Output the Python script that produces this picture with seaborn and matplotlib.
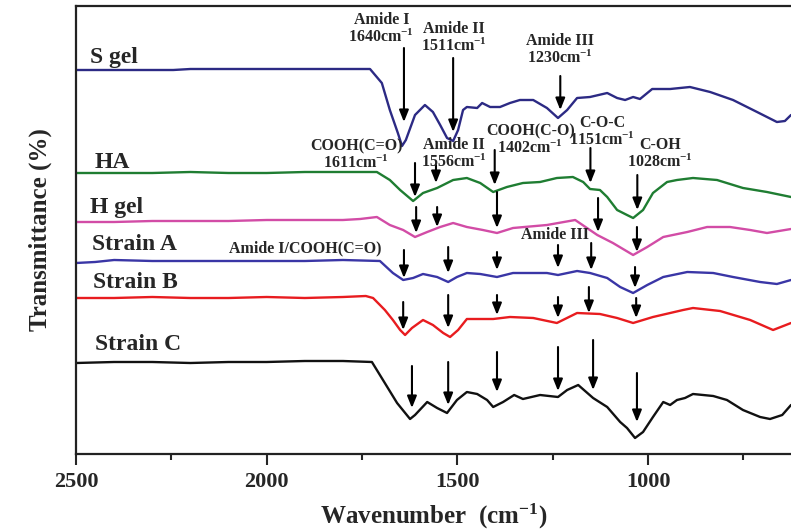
import numpy as np
import pandas as pd
import matplotlib
matplotlib.use("Agg")
import matplotlib.pyplot as plt
import seaborn as sns

# ---------------- data (wavenumber cm-1, transmittance a.u. with offsets) ----------------
sgel_w = [2500, 2400, 2300, 2245, 2200, 2100, 2000, 1900, 1800, 1729, 1698, 1677, 1656, 1645, 1635, 1611, 1585,
          1564, 1545, 1527, 1511, 1498, 1485, 1475, 1448, 1435, 1414, 1388, 1362, 1336, 1301, 1265, 1236,
          1212, 1186, 1152, 1107, 1081, 1060, 1039, 1021, 989, 942, 890, 837, 777, 714, 662, 641, 625]
sgel_t = [384, 384, 384, 384, 385, 385, 385, 385, 385, 385, 371, 344, 321, 308, 314, 339, 349,
          342, 329, 316, 313, 324, 344, 347, 346, 351, 347, 347, 351, 354, 354, 346, 336,
          344, 356, 357, 361, 356, 354, 357, 355, 365, 365, 367, 362, 354, 342, 332, 333, 339]

ha_w = [2500, 2400, 2300, 2200, 2100, 2000, 1900, 1800, 1711, 1677, 1650, 1616, 1590, 1553, 1511, 1475,
        1440, 1406, 1370, 1328, 1283, 1239, 1197, 1170, 1152, 1126, 1107, 1081, 1055, 1039, 1013, 987,
        950, 924, 882, 819, 751, 688, 625]
ha_t = [281, 281, 281, 282, 281, 281, 282, 282, 282, 274, 264, 253, 261, 266, 274, 276,
        271, 262, 267, 271, 272, 276, 277, 272, 265, 264, 257, 244, 239, 236, 244, 261,
        272, 274, 276, 274, 266, 262, 257]

hgel_w = [2500, 2400, 2300, 2200, 2100, 2000, 1900, 1800, 1755, 1711, 1677, 1642, 1611, 1579, 1545, 1511,
          1475, 1433, 1396, 1354, 1265, 1191, 1160, 1133, 1092, 1039, 1002, 960, 897, 845, 785, 732, 688, 625]
hgel_t = [232, 232, 233, 233, 233, 234, 234, 234, 235, 237, 229, 224, 217, 222, 227, 231,
          227, 224, 221, 226, 229, 234, 226, 219, 211, 199, 207, 217, 222, 227, 227, 224, 221, 225]

sa_w = [2500, 2450, 2400, 2300, 2200, 2100, 2000, 1900, 1800, 1703, 1669, 1642, 1616, 1590, 1553, 1524,
        1501, 1475, 1440, 1396, 1354, 1265, 1236, 1186, 1152, 1107, 1073, 1039, 1002, 960, 897, 829,
        777, 706, 662, 625]
sa_t = [191, 192, 194, 193, 193, 193, 193, 193, 194, 193, 181, 174, 176, 180, 177, 172,
        177, 181, 180, 177, 181, 181, 179, 183, 181, 176, 167, 161, 169, 177, 182, 181,
        177, 172, 170, 174]

sb_w = [2500, 2400, 2300, 2200, 2100, 2000, 1900, 1800, 1740, 1721, 1690, 1669, 1650, 1637, 1619, 1590,
        1564, 1537, 1519, 1498, 1475, 1406, 1362, 1301, 1239, 1186, 1126, 1081, 1039, 987, 908, 882,
        811, 732, 672, 625]
sb_t = [156, 156, 157, 156, 156, 157, 156, 157, 158, 156, 144, 134, 124, 119, 126, 134,
        129, 121, 117, 124, 135, 135, 137, 136, 131, 141, 140, 136, 131, 137, 144, 146,
        143, 134, 124, 131]

sc_w = [2500, 2400, 2300, 2200, 2100, 2000, 1900, 1800, 1724, 1695, 1658, 1624, 1611, 1579, 1553, 1527,
        1501, 1475, 1448, 1422, 1406, 1380, 1351, 1328, 1283, 1236, 1212, 1183, 1144, 1107, 1073, 1055,
        1034, 1013, 987, 960, 942, 924, 903, 882, 829, 793, 751, 706, 680, 648, 625]
sc_t = [91, 92, 92, 91, 92, 92, 93, 93, 92, 74, 51, 35, 39, 52, 46, 41,
        54, 62, 60, 54, 47, 52, 59, 55, 59, 57, 64, 69, 56, 47, 32, 26,
        16, 22, 37, 52, 49, 54, 56, 60, 58, 54, 44, 37, 35, 39, 49]

series_names = ["S gel", "HA", "H gel", "Strain A", "Strain B", "Strain C"]
series_w = [sgel_w, ha_w, hgel_w, sa_w, sb_w, sc_w]
series_t = [sgel_t, ha_t, hgel_t, sa_t, sb_t, sc_t]
series_colors = ["#2c2a84", "#1f7d32", "#d24ca6", "#3a36a6", "#e81c1f", "#111111"]

# series label anchor (left, centre)
label_w = [2463, 2450, 2463, 2458, 2455, 2450]
label_t = [397, 291, 247, 209, 171, 109]

# arrows: (wavenumber, start, end)
arrow_w = [1640, 1511, 1230,
           1611, 1556, 1402, 1151, 1028,
           1608, 1553, 1396, 1131, 1029,
           1640, 1524, 1396, 1236, 1149, 1034,
           1642, 1524, 1396, 1236, 1155, 1031,
           1619, 1524, 1396, 1236, 1144, 1029]
arrow_start = [406, 396, 378,
               291, 289, 304, 306, 279,
               247, 247, 262, 256, 227,
               204, 207, 202, 209, 211, 187,
               152, 159, 159, 157, 167, 156,
               88, 92, 102, 107, 114, 81]
arrow_end = [332, 322, 344,
             257, 271, 269, 271, 244,
             221, 227, 226, 222, 202,
             176, 181, 184, 186, 184, 166,
             124, 126, 139, 136, 141, 136,
             46, 49, 62, 63, 64, 32]

# peak annotations (two-line labels)
note_text = ["Amide I\n1640cm$^{-1}$", "Amide II\n1511cm$^{-1}$", "Amide III\n1230cm$^{-1}$",
             "COOH(C=O)\n1611cm$^{-1}$", "Amide II\n1556cm$^{-1}$", "COOH(C-O)\n1402cm$^{-1}$",
             "C-O-C\n1151cm$^{-1}$", "C-OH\n1028cm$^{-1}$", "Amide I/COOH(C=O)", "Amide III"]
note_w = [1699, 1510, 1231,
          1765, 1510, 1309,
          1121, 969, 1899, 1244]
note_t = [425, 416, 404,
          299, 300, 314,
          322, 300, 206, 219]

x_ticks = [2500, 2000, 1500, 1000]
x_minor = [2250, 1750, 1250, 750]

# ---------------- build long table ----------------
rows = []
for name, w, t in zip(series_names, series_w, series_t):
    for wi, ti in zip(w, t):
        rows.append({"sample": name, "wavenumber": wi, "T": ti})
df = pd.DataFrame(rows)

sns.set_style("ticks")
plt.rcParams["font.family"] = ["Liberation Serif", "DejaVu Serif"]
plt.rcParams["font.weight"] = "bold"
plt.rcParams["mathtext.fontset"] = "custom"
plt.rcParams["mathtext.rm"] = "Liberation Serif:bold"
plt.rcParams["mathtext.bf"] = "Liberation Serif:bold"
plt.rcParams["mathtext.it"] = "Liberation Serif:bold"

fig = plt.figure(figsize=(7.91, 5.32), dpi=100)
ax = fig.add_axes([76 / 791, 1 - 454 / 532, (791 - 76) / 791, (454 - 6) / 532])

sns.lineplot(data=df, x="wavenumber", y="T", hue="sample", hue_order=series_names,
             palette=dict(zip(series_names, series_colors)), estimator=None, sort=True,
             linewidth=1.7, legend=False, ax=ax)

ax.set_xlim(2500, 625)
ax.set_ylim(0, 448)

for name, lw_, lt_ in zip(series_names, label_w, label_t):
    ax.text(lw_, lt_, name, fontsize=17, fontweight="bold", ha="left", va="center")

for aw, a0, a1 in zip(arrow_w, arrow_start, arrow_end):
    ax.annotate("", xy=(aw, a1), xytext=(aw, a0),
                arrowprops=dict(arrowstyle="-|>,head_width=0.28,head_length=0.7",
                                color="black", lw=1.5, shrinkA=0, shrinkB=0))

for txt, nw, nt in zip(note_text, note_w, note_t):
    ax.text(nw, nt, txt, fontsize=11.5, fontweight="bold", ha="center", va="center",
            multialignment="center", linespacing=1.0)

ax.set_xticks(x_ticks)
ax.set_xticks(x_minor, minor=True)
ax.set_xticklabels([str(v) for v in x_ticks], fontsize=16, fontweight="bold")
ax.tick_params(axis="x", which="major", length=8, width=1.5, direction="out", pad=5)
ax.tick_params(axis="x", which="minor", length=4, width=1.5, direction="out")
ax.set_yticks([])
ax.set_xlabel("Wavenumber  (cm$^{-1}$)", fontsize=18, fontweight="bold", labelpad=7)
ax.set_ylabel("Transmittance (%)", fontsize=18, fontweight="bold", labelpad=17)

for s in ["left", "bottom", "top"]:
    ax.spines[s].set_linewidth(1.6)
    ax.spines[s].set_color("#222222")
ax.spines["right"].set_visible(False)

fig.savefig("out.png", dpi=100)
